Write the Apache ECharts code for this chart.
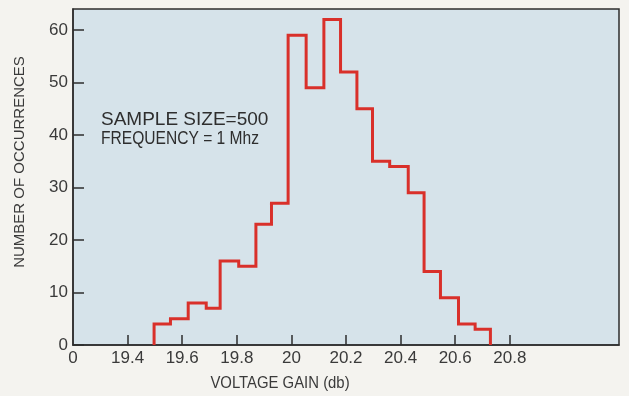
<!DOCTYPE html>
<html>
<head>
<meta charset="utf-8">
<script src="https://cdn.jsdelivr.net/npm/echarts@6/dist/echarts.min.js"></script>
<style>
html,body{margin:0;padding:0;background:#f4f3ef;}
#c{width:629px;height:396px;}
</style>
</head>
<body>
<div id="c"></div>
<script>
// Histogram bin edges (voltage gain, db)
const binEdges = [19.497, 19.557, 19.622, 19.688, 19.739, 19.807, 19.870, 19.927, 19.988, 20.054,
                  20.119, 20.180, 20.240, 20.297, 20.360, 20.428, 20.486, 20.546, 20.612, 20.673, 20.729];
// Number of occurrences per bin
const counts = [4, 5, 8, 7, 16, 15, 23, 27, 59, 49, 62, 52, 45, 35, 34, 29, 14, 9, 4, 3];
// Axis ticks
const xTicks = [19.4, 19.6, 19.8, 20.0, 20.2, 20.4, 20.6, 20.8];
const xLabelValues = [19.2, 19.4, 19.6, 19.8, 20.0, 20.2, 20.4, 20.6, 20.8];
const yTicks = [0, 10, 20, 30, 40, 50, 60];
const annotation = ['SAMPLE SIZE=500', 'FREQUENCY = 1 Mhz'];
const xTitle = 'VOLTAGE GAIN (db)';
const yTitle = 'NUMBER OF OCCURRENCES';

// Build the step outline from edges and counts
const outline = [[binEdges[0], 0]];
for (let i = 0; i < counts.length; i++) {
  outline.push([binEdges[i], counts[i]]);
  outline.push([binEdges[i + 1], counts[i]]);
}
outline.push([binEdges[binEdges.length - 1], 0]);

const FONT = '"Liberation Sans", Arial, sans-serif';
const TXT = '#3a3a3a';

const chart = echarts.init(document.getElementById('c'), null, {renderer: 'canvas'});
chart.setOption({
  backgroundColor: '#f4f3ef',
  animation: false,
  grid: {
    left: 73, right: 10, top: 9, bottom: 51,
    show: true, backgroundColor: '#d6e3ea',
    borderColor: '#2e2e2e', borderWidth: 1.5
  },
  xAxis: {
    type: 'value', min: 19.2, max: 21.2, interval: 0.2,
    axisLine: {show: true, lineStyle: {color: '#2e2e2e', width: 1.5}},
    splitLine: {show: false},
    axisTick: {show: true, inside: true, length: 10, customValues: xTicks,
               lineStyle: {color: '#2e2e2e', width: 1.5}},
    axisLabel: {
      customValues: xLabelValues, margin: 5,
      color: TXT, fontFamily: FONT, fontSize: 17,
      formatter: v => (Math.abs(v - 19.2) < 1e-6 ? '0' : String(+(+v).toFixed(1)))
    }
  },
  yAxis: {
    type: 'value', min: 0, max: 64, interval: 10,
    axisLine: {show: true, lineStyle: {color: '#2e2e2e', width: 1.5}},
    splitLine: {show: false},
    axisTick: {show: true, inside: true, length: 11, customValues: yTicks,
               lineStyle: {color: '#2e2e2e', width: 1.5}},
    axisLabel: {customValues: yTicks, margin: 5, color: TXT, fontFamily: FONT, fontSize: 17}
  },
  graphic: [
    {type: 'text', x: 101, y: 120,
     style: {text: annotation[0], fill: '#2e2e2e', font: '19px ' + FONT, verticalAlign: 'middle'}},
    {type: 'text', x: 101, y: 138.5, scaleX: 0.82,
     style: {text: annotation[1], fill: '#2e2e2e', font: '19px ' + FONT, verticalAlign: 'middle'}},
    {type: 'text', x: 280, y: 384, scaleX: 0.93,
     style: {text: xTitle, fill: TXT, font: '16px ' + FONT, align: 'center', verticalAlign: 'middle'}},
    {type: 'text', x: 20, y: 162, rotation: Math.PI / 2,
     style: {text: yTitle, fill: TXT, font: '15px ' + FONT, align: 'center', verticalAlign: 'middle'}}
  ],
  series: [{
    type: 'line', data: outline, symbol: 'none',
    lineStyle: {color: '#d9302a', width: 3, join: 'miter'},
    z: 5
  }]
});
</script>
</body>
</html>
